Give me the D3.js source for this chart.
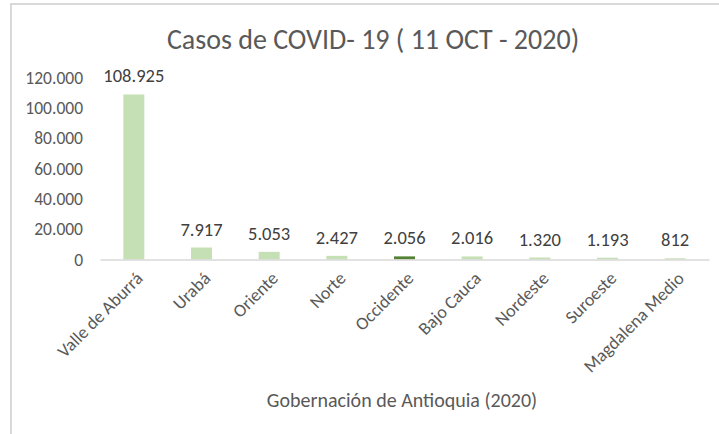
<!DOCTYPE html>
<html>
<head>
<meta charset="utf-8">
<script src="https://cdn.jsdelivr.net/npm/d3@7"></script>
<style>
  body { margin: 0; background: #fff; }
  svg text { font-family: Carlito, Lato, "Open Sans", sans-serif; }
</style>
</head>
<body>
<div id="chart"></div>
<script>
var regions = ["Valle de Aburrá", "Urabá", "Oriente", "Norte", "Occidente", "Bajo Cauca", "Nordeste", "Suroeste", "Magdalena Medio"];
var cases = [108925, 7917, 5053, 2427, 2056, 2016, 1320, 1193, 812];
var yTicks = [0, 20000, 40000, 60000, 80000, 100000, 120000];
var highlight = "Occidente";

var width = 719, height = 434;
var margin = {left: 100, right: 10, top: 77.7, bottom: 174.5};

var svg = d3.select("#chart").append("svg")
    .attr("width", width)
    .attr("height", height);

// frame of the chart area (cropped at right and bottom)
svg.append("path")
    .attr("d", "M11," + height + "V4H" + width)
    .attr("fill", "none")
    .attr("stroke", "#d9d9d9")
    .attr("stroke-width", 2);

var x = d3.scaleBand()
    .domain(regions)
    .range([margin.left, 709])
    .paddingInner(0.69)
    .paddingOuter(0.345);

var y = d3.scaleLinear()
    .domain([0, 120000])
    .range([259.5, margin.top]);

var fmt = function(v) { return d3.format(",")(v).replace(/,/g, "."); };

svg.append("text")
    .attr("x", 373)
    .attr("y", 49)
    .attr("text-anchor", "middle")
    .attr("font-size", 28)
    .attr("fill", "#595959")
    .text("Casos de COVID- 19 ( 11 OCT - 2020)");

// y axis labels
var yAxis = svg.append("g")
    .attr("transform", "translate(" + 92 + ",0)")
    .call(d3.axisLeft(y).tickValues(yTicks).tickSize(0).tickPadding(9).tickFormat(fmt));
yAxis.select(".domain").remove();
yAxis.selectAll("text")
    .attr("font-size", 17.5)
    .attr("fill", "#595959")
    .style("font-family", null);

// bars
svg.append("g")
  .selectAll("rect")
  .data(regions)
  .enter().append("rect")
    .attr("x", function(d) { return x(d); })
    .attr("y", function(d, i) { return y(cases[i]); })
    .attr("width", x.bandwidth())
    .attr("height", function(d, i) { return y(0) - y(cases[i]); })
    .attr("fill", function(d) { return d === highlight ? "#548235" : "#c5e0b4"; });

// value labels
svg.append("g")
  .selectAll("text")
  .data(regions)
  .enter().append("text")
    .attr("x", function(d) { return x(d) + x.bandwidth() / 2; })
    .attr("y", function(d, i) { return y(cases[i]) - 12; })
    .attr("text-anchor", "middle")
    .attr("font-size", 18.5)
    .attr("fill", "#404040")
    .text(function(d, i) { return fmt(cases[i]); });

// x axis
var xAxis = svg.append("g")
    .attr("transform", "translate(0," + y(0) + ")")
    .call(d3.axisBottom(x).tickSize(0).tickPadding(0));
xAxis.select(".domain")
    .attr("stroke", "#d9d9d9")
    .attr("stroke-width", 1.5);
xAxis.selectAll("text")
    .style("font-family", null)
    .attr("font-size", 18)
    .attr("fill", "#595959")
    .attr("text-anchor", "end")
    .attr("dy", null)
    .attr("y", 0)
    .attr("transform", "translate(10,20) rotate(-45)");

svg.append("text")
    .attr("x", 402)
    .attr("y", 407)
    .attr("text-anchor", "middle")
    .attr("font-size", 20)
    .attr("fill", "#595959")
    .text("Gobernación de Antioquia (2020)");
</script>
</body>
</html>
